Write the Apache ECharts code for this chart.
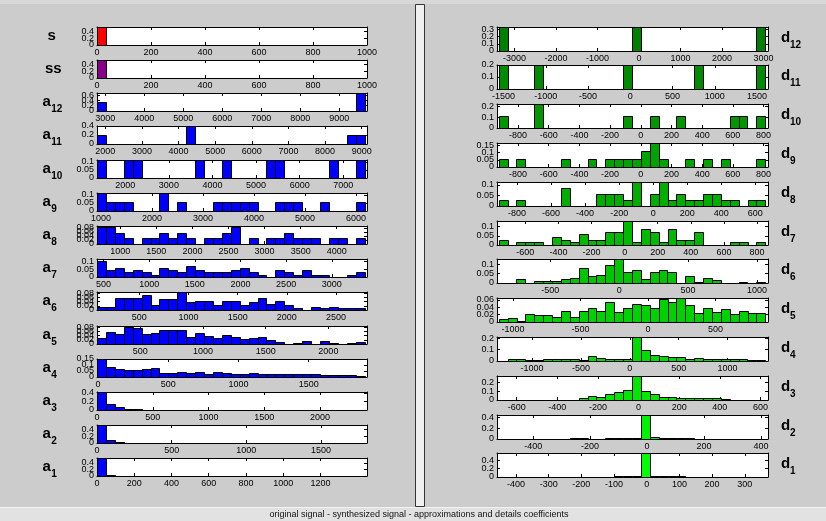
<!DOCTYPE html>
<html><head><meta charset="utf-8">
<script src="https://cdn.jsdelivr.net/npm/echarts@6/dist/echarts.min.js"></script>
<style>html,body{margin:0;padding:0;background:#cccccc;}#c{width:826px;height:521px;}</style>
</head><body><div id="c"></div>
<script>
// ---------- LEFT column: original signal, synthesized signal, approximations ----------
const leftLetters = ['s','ss','a','a','a','a','a','a','a','a','a','a','a','a'];
const leftSubs    = ['','','12','11','10','9','8','7','6','5','4','3','2','1'];
const leftXMin  = [0, 0, 2787, 1774, 1352, 922, 677, 428, 70, 155, -8, 0, 0, 0];
const leftXMax  = [1000, 1000, 9709, 9145, 7543, 6215, 4420, 3386, 2815, 2308, 1915, 2421, 1808, 1450];
const leftBinLo = [0, 0, 2787, 1774, 1352, 922, 677, 428, 70, 155, -8, 0, 0, 0];
const leftBinHi = [991, 991, 9648, 9080, 7488, 6168, 4387, 3360, 2790, 2289, 1898, 2400, 1792, 1437];
const leftYMax  = [0.52, 0.52, 0.68, 0.4, 0.111, 0.111, 0.09, 0.115, 0.085, 0.087, 0.15, 0.42, 0.52, 0.55];
const leftXTicks = [
  [0,200,400,600,800,1000],
  [0,200,400,600,800,1000],
  [3000,4000,5000,6000,7000,8000,9000],
  [2000,3000,4000,5000,6000,7000,8000,9000],
  [2000,3000,4000,5000,6000,7000],
  [1000,2000,3000,4000,5000,6000],
  [1000,1500,2000,2500,3000,3500,4000],
  [500,1000,1500,2000,2500,3000],
  [500,1000,1500,2000,2500],
  [500,1000,1500,2000],
  [0,500,1000,1500],
  [0,500,1000,1500,2000],
  [0,500,1000,1500],
  [0,200,400,600,800,1000,1200]
];
const leftYTicks = [
  [0,0.2,0.4],[0,0.2,0.4],[0,0.2,0.4,0.6],[0,0.2,0.4],
  [0,0.05,0.1],[0,0.05,0.1],[0,0.02,0.04,0.06,0.08],[0,0.05,0.1],
  [0,0.02,0.04,0.06,0.08],[0,0.02,0.04,0.06,0.08],[0,0.05,0.1,0.15],
  [0,0.2,0.4],[0,0.2,0.4],[0,0.2,0.4]
];
const sVals   = [0.52,0.012,0.009,0.007,0.006,0.005,0.005,0.004,0.004,0.004,0.003,0,0,0,0,0,0,0,0,0,0,0,0,0,0,0,0,0,0,0];
const ssVals  = [0.52,0.012,0.009,0.007,0.006,0.005,0.005,0.004,0.004,0.004,0.003,0,0,0,0,0,0,0,0,0,0,0,0,0,0,0,0,0,0,0];
const a12Vals = [0.333,0,0,0,0,0,0,0,0,0,0,0,0,0,0,0,0,0,0,0,0,0,0,0,0,0,0,0,0,0.667];
const a11Vals = [0.2,0,0,0,0,0,0,0,0,0,0.4,0,0,0,0,0,0,0,0,0,0,0,0,0,0,0,0,0,0.2,0.2];
const a10Vals = [0.111,0,0,0.111,0.111,0,0,0,0,0,0,0.111,0,0,0.111,0,0,0,0,0.111,0.111,0,0,0,0,0,0.111,0,0,0.111];
const a9Vals  = [0.111,0.0556,0.0556,0.0556,0,0,0,0.111,0,0.0556,0,0,0,0.0556,0.0556,0.0556,0.0556,0.0556,0,0,0.0556,0.0556,0.0556,0,0,0.0556,0,0,0,0.0556];
const a8Vals  = [0.086,0.086,0.057,0.029,0,0.029,0.029,0.057,0.029,0.057,0.029,0,0.029,0.029,0.057,0.086,0,0.029,0,0.029,0.029,0.057,0.029,0.029,0.029,0,0.029,0.029,0,0.029];
const a7Vals  = [0.101,0.0435,0.058,0.029,0.0435,0.029,0.0145,0.058,0.0435,0.029,0.0725,0.0435,0.029,0.029,0.029,0.0435,0.058,0.029,0.0145,0,0.0435,0.029,0.0145,0.0435,0.0145,0.0145,0,0,0.0145,0.029];
const a6Vals  = [0.015,0.015,0.058,0.058,0.058,0.073,0.022,0.051,0.051,0.085,0.037,0.043,0.043,0.022,0.043,0.043,0.022,0.037,0.058,0.030,0.043,0.022,0.0075,0,0.015,0.010,0.015,0.010,0.010,0.010];
const a5Vals  = [0.028,0.059,0.047,0.082,0.078,0.047,0.052,0.066,0.070,0.066,0.032,0.055,0.040,0.028,0.044,0.035,0.024,0.028,0.032,0.019,0.011,0,0.006,0.013,0,0.013,0.003,0,0.003,0.008];
const a4Vals  = [0.15,0.08,0.068,0.06,0.06,0.068,0.075,0.035,0.035,0.043,0.035,0.043,0.028,0.038,0.033,0.028,0.028,0.033,0.023,0.028,0.023,0.023,0.028,0.028,0.023,0.018,0.013,0.013,0.015,0.008];
const a3Vals  = [0.42,0.13,0.07,0.03,0.03,0.01,0.008,0.008,0.006,0.006,0.005,0.004,0,0.004,0.004,0,0.004,0.004,0,0.003,0.003,0,0,0,0,0.003,0.003,0,0,0.002];
const a2Vals  = [0.52,0.075,0.03,0.01,0.01,0.008,0.008,0.006,0.006,0.005,0.005,0,0,0,0,0,0,0,0,0,0,0,0,0,0,0,0,0,0,0];
const a1Vals  = [0.55,0.03,0.012,0.006,0.005,0.004,0.004,0.004,0.003,0,0,0.003,0.003,0,0,0,0,0,0,0,0,0,0,0,0,0,0,0,0,0];
const leftValues = [sVals, ssVals, a12Vals, a11Vals, a10Vals, a9Vals, a8Vals, a7Vals, a6Vals, a5Vals, a4Vals, a3Vals, a2Vals, a1Vals];
const leftColors = ['#ff0000','#880088','#0000ff','#0000ff','#0000ff','#0000ff','#0000ff','#0000ff','#0000ff','#0000ff','#0000ff','#0000ff','#0000ff','#0000ff'];

// ---------- RIGHT column: details ----------
const rightLetters = ['d','d','d','d','d','d','d','d','d','d','d','d'];
const rightSubs    = ['12','11','10','9','8','7','6','5','4','3','2','1'];
const rightXMin  = [-3424, -1578, -937, -937, -918, -771, -887, -1119, -1358, -697, -527, -458];
const rightXMax  = [3106, 1630, 829, 829, 675, 866, 1080, 890, 1413, 637, 425, 371];
const rightBinLo = [-3383, -1558, -926, -926, -908, -761, -875, -1106, -1341, -689, -521, -453];
const rightBinHi = [3041, 1598, 811, 811, 659, 850, 1060, 870, 1385, 624, 416, 363];
const rightYMax  = [0.333, 0.2, 0.222, 0.167, 0.114, 0.13, 0.128, 0.065, 0.21, 0.27, 0.45, 0.58];
const rightXTicks = [
  [-3000,-2000,-1000,0,1000,2000,3000],
  [-1500,-1000,-500,0,500,1000,1500],
  [-800,-600,-400,-200,0,200,400,600,800],
  [-800,-600,-400,-200,0,200,400,600,800],
  [-800,-600,-400,-200,0,200,400,600],
  [-600,-400,-200,0,200,400,600,800],
  [-500,0,500,1000],
  [-1000,-500,0,500],
  [-1000,-500,0,500,1000],
  [-600,-400,-200,0,200,400,600],
  [-400,-200,0,200,400],
  [-400,-300,-200,-100,0,100,200,300]
];
const rightYTicks = [
  [0,0.1,0.2,0.3],[0,0.1,0.2],[0,0.1,0.2],[0,0.05,0.1,0.15],[0,0.05,0.1],[0,0.05,0.1],
  [0,0.05,0.1],[0,0.02,0.04,0.06],[0,0.1,0.2],[0,0.1,0.2],[0,0.2,0.4],[0,0.2,0.4]
];
const d12Vals = [0.333,0,0,0,0,0,0,0,0,0,0,0,0,0,0,0.333,0,0,0,0,0,0,0,0,0,0,0,0,0,0.333];
const d11Vals = [0.2,0,0,0,0.2,0,0,0,0,0,0,0,0,0,0.2,0,0,0,0,0,0,0,0.2,0,0,0,0,0,0,0.2];
const d10Vals = [0.111,0,0,0,0.222,0,0,0,0,0,0,0,0,0,0.111,0,0,0.111,0,0,0.111,0,0,0,0,0,0.111,0.111,0,0.111];
const d9Vals  = [0.0556,0,0.0556,0,0,0,0,0.0556,0,0,0.0556,0,0.0556,0.0556,0.0556,0.0556,0.111,0.167,0.0556,0,0,0.0556,0,0.0556,0,0.0556,0,0,0,0.0556];
const d8Vals  = [0.029,0,0.029,0,0,0,0,0.086,0,0,0,0.057,0.057,0.057,0.029,0.114,0,0.057,0.114,0.029,0.057,0.029,0.029,0.057,0.057,0.029,0.029,0,0.029,0.029];
const d7Vals  = [0.029,0,0.0145,0.0145,0.0145,0,0.0435,0.029,0.0145,0.058,0.029,0.029,0.0725,0.0725,0.13,0.0145,0.087,0.0725,0.0145,0.087,0.029,0.029,0.0725,0,0,0,0.0145,0.0145,0,0.0145];
const d6Vals  = [0.002,0.002,0.024,0.001,0.013,0.013,0.013,0.022,0.027,0.082,0.036,0.045,0.095,0.127,0.06,0.069,0.024,0.06,0.069,0.06,0.002,0.036,0.003,0.027,0.015,0,0,0.003,0,0.003];
const d5Vals  = [0.009,0.012,0.004,0.022,0.019,0.019,0.014,0.031,0.014,0.031,0.038,0.031,0.054,0.028,0.038,0.050,0.045,0.038,0.061,0.054,0.064,0.045,0.025,0.038,0.028,0.034,0.022,0.031,0.025,0.025];
const d4Vals  = [0,0.02,0.015,0.01,0.01,0.015,0.015,0.02,0.015,0.01,0.04,0.03,0.02,0.02,0.015,0.21,0.1,0.055,0.04,0.035,0.035,0.02,0.025,0.02,0.02,0.02,0.02,0.02,0.005,0.005];
const d3Vals  = [0,0,0,0,0,0,0,0.005,0.005,0.018,0.044,0.033,0.07,0.089,0.107,0.27,0.1,0.063,0.037,0.037,0.026,0.018,0.018,0.018,0.018,0.006,0,0,0,0];
const d2Vals  = [0,0,0,0,0,0,0,0.005,0.015,0.015,0.003,0.003,0.015,0.015,0.02,0.02,0.45,0.035,0.015,0.025,0.025,0.025,0.005,0.005,0.005,0,0.005,0,0,0];
const d1Vals  = [0,0,0,0,0,0,0,0,0,0,0,0.005,0.01,0.015,0.025,0.02,0.58,0.03,0.03,0.02,0.02,0.005,0,0,0,0,0,0,0,0];
const rightValues = [d12Vals, d11Vals, d10Vals, d9Vals, d8Vals, d7Vals, d6Vals, d5Vals, d4Vals, d3Vals, d2Vals, d1Vals];
const rightColors = ['#008000','#008c00','#009700','#00a300','#00ae00','#00ba00','#00c500','#00d100','#00dc00','#00e800','#00f300','#00ff00'];

const statusText = 'original signal - synthesized signal - approximations and details coefficients';

// ---------- build ----------
const FONT = 'Liberation Sans, Arial, Helvetica, sans-serif';
const TICK_FONT = 9;
const option = {
  backgroundColor: '#cccccc', animation: false,
  grid: [], xAxis: [], yAxis: [], series: [], graphic: []
};

function axisCommon(extra) {
  return Object.assign({
    type: 'value', splitLine: { show: false },
    axisLine: { show: true, onZero: false, lineStyle: { color: '#000', width: 1 } }
  }, extra);
}
function labelStyle(vals) {
  return { show: true, customValues: vals, fontSize: TICK_FONT, fontFamily: FONT, color: '#000', margin: 3,
    hideOverlap: false, showMinLabel: true, showMaxLabel: true,
    formatter: function (v) { return String(v); } };
}

function addPanel(left, top, width, height, xmin, xmax, lo, hi, ymax, xt, yt, vals, color) {
  const gi = option.grid.length;
  option.grid.push({ left: left, top: top, width: width, height: height, show: true,
    backgroundColor: '#ffffff', borderWidth: 0, outerBoundsMode: 'none', containLabel: false });
  const xb = option.xAxis.length;
  option.xAxis.push(axisCommon({ gridIndex: gi, position: 'bottom', min: xmin, max: xmax,
    axisTick: { show: true, inside: true, length: 3, customValues: xt, lineStyle: { color: '#000' } },
    axisLabel: labelStyle(xt) }));
  option.xAxis.push(axisCommon({ gridIndex: gi, position: 'top', min: xmin, max: xmax,
    axisTick: { show: true, inside: true, length: 3, customValues: xt, lineStyle: { color: '#000' } },
    axisLabel: { show: false } }));
  const yl = option.yAxis.length;
  option.yAxis.push(axisCommon({ gridIndex: gi, position: 'left', min: 0, max: ymax,
    axisTick: { show: true, inside: true, length: 3, customValues: yt, lineStyle: { color: '#000' } },
    axisLabel: { show: false } }));
  option.yAxis.push(axisCommon({ gridIndex: gi, position: 'right', min: 0, max: ymax,
    axisTick: { show: true, inside: true, length: 3, customValues: yt, lineStyle: { color: '#000' } },
    axisLabel: { show: false } }));
  // one label-only axis per y tick value so that crowded labels are all kept (as in the original)
  yt.forEach(function (tv) {
    option.yAxis.push({ type: 'value', gridIndex: gi, position: 'left', min: 0, max: ymax,
      axisLine: { show: false }, axisTick: { show: false }, splitLine: { show: false },
      axisLabel: labelStyle([tv]) });
  });
  const n = vals.length, w = (hi - lo) / n;
  const data = vals.map(function (v, i) { return [lo + i * w, lo + (i + 1) * w, v]; });
  option.series.push({
    type: 'custom', xAxisIndex: xb, yAxisIndex: yl, clip: false, silent: true,
    encode: { x: [0, 1], y: 2 }, data: data,
    renderItem: function (params, api) {
      const v = api.value(2);
      if (!(v > 0)) return null;
      const p0 = api.coord([api.value(0), 0]);
      const p1 = api.coord([api.value(1), v]);
      const x0 = Math.round(p0[0]) + 0.5, x1 = Math.round(p1[0]) + 0.5;
      const yb = Math.round(p0[1]) + 0.5, yt2 = Math.round(p1[1]) + 0.5;
      return { type: 'rect', shape: { x: x0, y: yt2, width: x1 - x0, height: Math.max(0, yb - yt2) },
        style: { fill: color, stroke: '#000', lineWidth: 1 } };
    }
  });
}

function addLabel(x, y, letter, sub, center, subDy, letterSize, subSize) {
  option.graphic.push({ type: 'text', x: x, y: y, silent: true,
    style: { text: letter, fill: '#000', fontSize: letterSize, fontWeight: 'bold', fontFamily: FONT,
      align: center ? 'center' : 'left', verticalAlign: 'middle',
      textAlign: center ? 'center' : 'left', textVerticalAlign: 'middle' } });
  if (sub) {
    option.graphic.push({ type: 'text', x: x + (letter === 'd' ? 9 : 8.8), y: y + subDy, silent: true,
      style: { text: sub, fill: '#000', fontSize: subSize, fontWeight: 'bold', fontFamily: FONT,
        align: 'left', verticalAlign: 'middle', textAlign: 'left', textVerticalAlign: 'middle' } });
  }
}

// window decorations
option.graphic.push({ type: 'rect', silent: true, z: -10, shape: { x: 0, y: 0, width: 826, height: 4 }, style: { fill: '#d8d8d8' } });
option.graphic.push({ type: 'rect', silent: true, z: -10, shape: { x: 0, y: 507, width: 826, height: 14 }, style: { fill: '#e2e2e2' } });
option.graphic.push({ type: 'line', silent: true, z: -9, shape: { x1: 0, y1: 507.5, x2: 826, y2: 507.5 }, style: { stroke: '#f2f2f2', lineWidth: 1 } });
option.graphic.push({ type: 'rect', silent: true, shape: { x: 415.5, y: 4.5, width: 9, height: 502 }, style: { fill: '#f0f0f0', stroke: '#333333', lineWidth: 1 } });
option.graphic.push({ type: 'text', x: 419, y: 515, silent: true,
  style: { text: statusText, fill: '#111', fontSize: 9, fontFamily: FONT, align: 'center', verticalAlign: 'middle',
    textAlign: 'center', textVerticalAlign: 'middle' } });

for (let i = 0; i < leftValues.length; i++) {
  const top = Math.round(26.7 + 33.2 * i);
  const h = 18;
  addPanel(97, top, 270, h, leftXMin[i], leftXMax[i], leftBinLo[i], leftBinHi[i], leftYMax[i],
    leftXTicks[i], leftYTicks[i], leftValues[i], leftColors[i]);
  const cy = top + h / 2;
  if (leftSubs[i]) addLabel(42.5, cy - 0.5, leftLetters[i], leftSubs[i], false, 8, 15, 10);
  else addLabel(leftLetters[i] === 's' ? 51.7 : 53.3, cy + 0.3, leftLetters[i], '', true, 0, 15, 10);
}
for (let j = 0; j < rightValues.length; j++) {
  const top = Math.round(26.7 + 38.78 * j);
  const h = 24;
  addPanel(497, top, 271, h, rightXMin[j], rightXMax[j], rightBinLo[j], rightBinHi[j], rightYMax[j],
    rightXTicks[j], rightYTicks[j], rightValues[j], rightColors[j]);
  const cy = top + h / 2;
  addLabel(781, cy - 0.7, rightLetters[j], rightSubs[j], false, 6.5, 15, 10);
}

const chart = echarts.init(document.getElementById('c'), null, { renderer: 'canvas' });
chart.setOption(option);
</script></body></html>
